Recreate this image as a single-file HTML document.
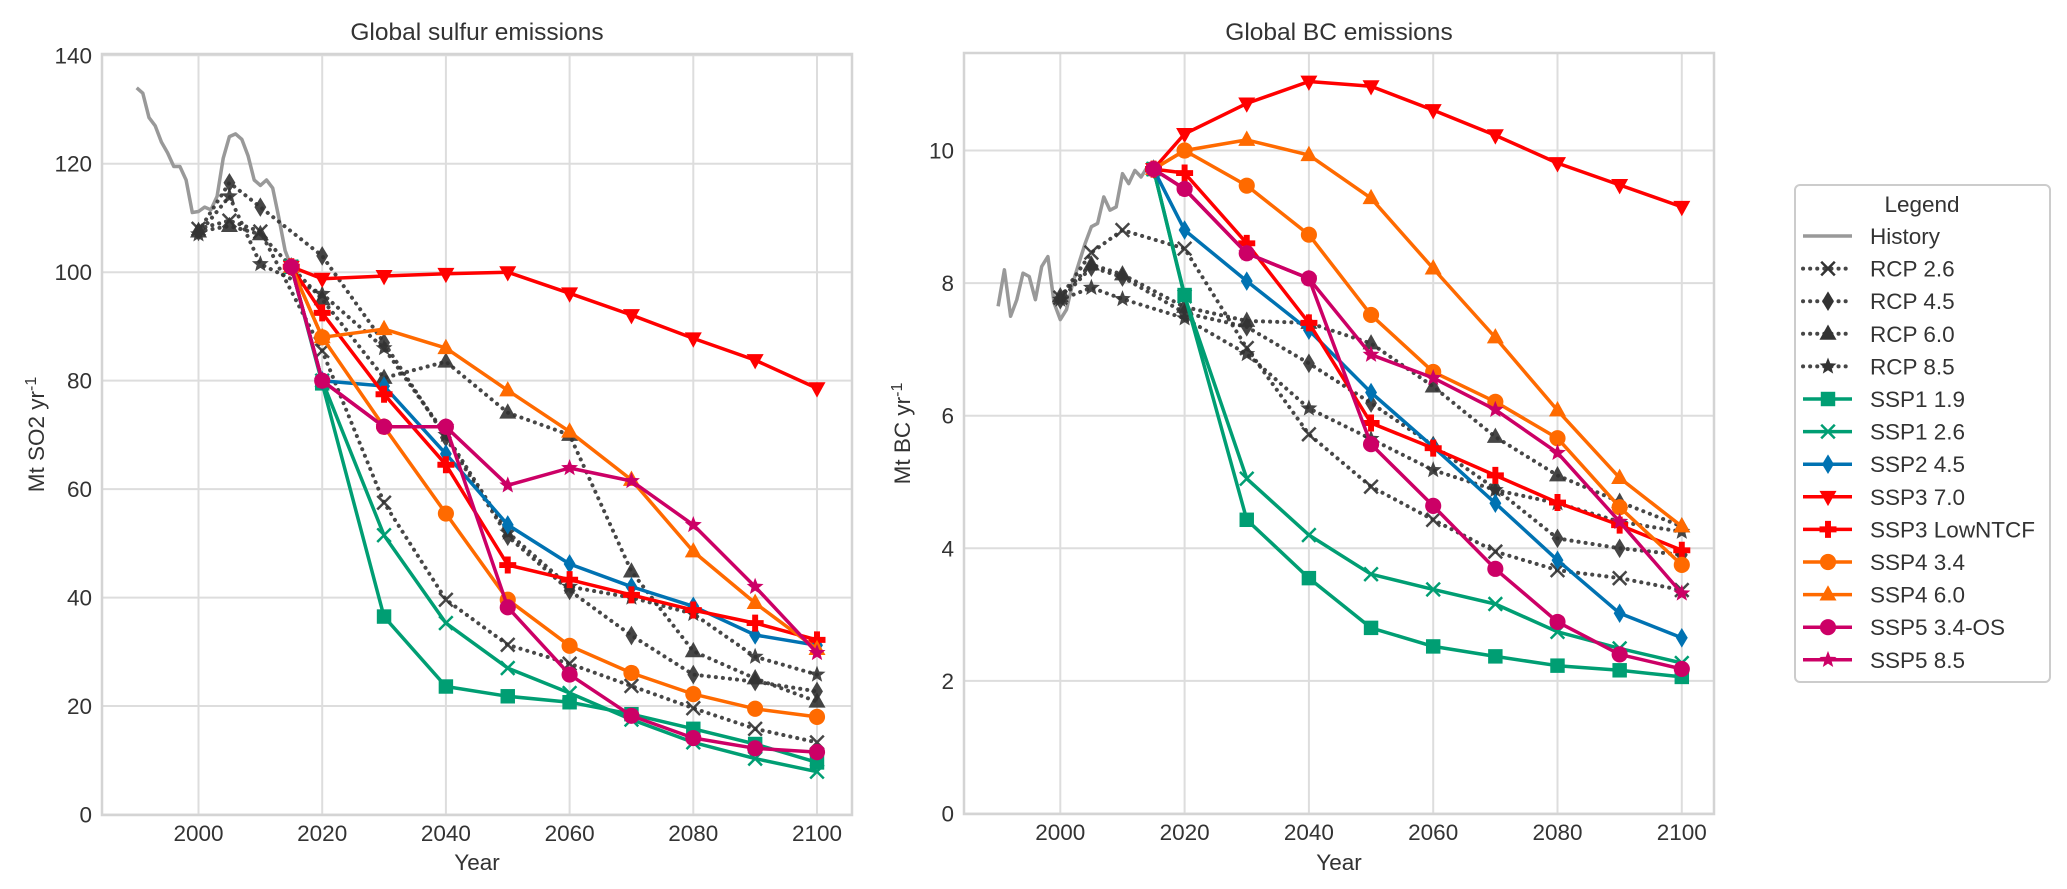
<!DOCTYPE html>
<html><head><meta charset="utf-8"><style>
html,body{margin:0;padding:0;background:#fff}
svg{display:block;font-family:"Liberation Sans",Arial,sans-serif}
</style></head><body>
<svg id="chart" width="2067" height="889" viewBox="0 0 2067 889" xmlns="http://www.w3.org/2000/svg">
<defs>
<clipPath id="clipL"><rect x="102" y="54" width="750" height="761"/></clipPath>
<clipPath id="clipR"><rect x="964" y="53" width="750" height="761"/></clipPath>
</defs>
<g id="panelL"></g>
<g id="panelR"></g>
<g id="legend"></g>
</svg>
<script>
// ---- data ----
const histYears = [1990,1991,1992,1993,1994,1995,1996,1997,1998,1999,2000,2001,2002,2003,2004,2005,2006,2007,2008,2009,2010,2011,2012,2013,2014,2015];
const rcpYears = [2000,2005,2010,2020,2030,2040,2050,2060,2070,2080,2090,2100];
const sspYears = [2015,2020,2030,2040,2050,2060,2070,2080,2090,2100];
const yTicksL = [0,20,40,60,80,100,120,140];
const yTicksR = [0,2,4,6,8,10];
const xTicks = [2000,2020,2040,2060,2080,2100];

const so2History = [134,133,128.5,127,124,122,119.5,119.5,117,111,111.2,112,111.5,114,121,125,125.5,124.5,121.5,117,116,117,115.5,110,104,101];
const so2Rcp26 = [108,109.5,107.5,85.5,57.5,39.6,31.3,27.8,23.7,19.6,15.8,13.3];
const so2Rcp45 = [107.5,116.5,112,103,87,69.5,51.3,41.3,33,25.8,24.5,22.7];
const so2Rcp60 = [107.5,108.5,107,95,80.5,83.5,74.1,70,44.8,30.1,25.1,20.8];
const so2Rcp85 = [107,114,101.5,96,86,70,52,42,40,37,29.1,25.8];
const so2Ssp119 = [101,79.5,36.5,23.6,21.8,20.7,18.5,15.8,13,9.6];
const so2Ssp126 = [101,80,51.5,35.3,27,22.4,17.5,13.3,10.3,7.9];
const so2Ssp245 = [101,80,79,66.5,53.4,46.2,42,38.4,33.1,31.2];
const so2Ssp370 = [101,98.8,99.3,99.7,100,96.1,92.1,87.8,83.8,78.6];
const so2Ssp3Low = [101,92.5,77.5,64.5,46,43.3,40.5,37.7,35.3,32.2];
const so2Ssp434 = [101,88,71.5,55.5,39.6,31.1,26.1,22.2,19.5,18];
const so2Ssp460 = [101,88,89.5,86,78.2,70.6,61.7,48.5,39,30.5];
const so2Ssp534 = [101,80,71.5,71.5,38.2,25.8,18.2,14.1,12.2,11.5];
const so2Ssp585 = [101,80,71.5,71.5,60.7,63.9,61.5,53.4,42,29.8];

const bcHistory = [7.65,8.2,7.5,7.75,8.15,8.1,7.75,8.25,8.4,7.7,7.45,7.6,8.0,8.3,8.6,8.85,8.9,9.3,9.1,9.15,9.65,9.5,9.7,9.6,9.75,9.72];
const bcRcp26 = [7.78,8.46,8.8,8.52,7.02,5.72,4.93,4.43,3.95,3.67,3.55,3.37];
const bcRcp45 = [7.75,8.24,8.09,7.55,7.34,6.79,6.19,5.55,4.9,4.15,4.0,3.9];
const bcRcp60 = [7.8,8.28,8.13,7.64,7.43,7.4,7.09,6.44,5.68,5.1,4.7,4.33];
const bcRcp85 = [7.75,7.93,7.76,7.47,6.93,6.11,5.65,5.18,4.88,4.68,4.4,4.25];
const bcSsp119 = [9.72,7.82,4.43,3.55,2.8,2.52,2.37,2.23,2.16,2.06];
const bcSsp126 = [9.72,7.8,5.05,4.2,3.61,3.38,3.16,2.74,2.49,2.27];
const bcSsp245 = [9.72,8.8,8.03,7.29,6.35,5.53,4.68,3.82,3.02,2.65];
const bcSsp370 = [9.72,10.25,10.71,11.04,10.97,10.61,10.23,9.81,9.48,9.15];
const bcSsp3Low = [9.72,9.66,8.6,7.4,5.89,5.51,5.1,4.69,4.35,3.97];
const bcSsp434 = [9.72,10.0,9.47,8.73,7.52,6.66,6.21,5.66,4.62,3.75];
const bcSsp460 = [9.72,10.0,10.16,9.93,9.28,8.22,7.18,6.08,5.06,4.33];
const bcSsp534 = [9.72,9.42,8.45,8.07,5.57,4.64,3.69,2.89,2.4,2.18];
const bcSsp585 = [9.72,9.42,8.45,8.07,6.92,6.57,6.09,5.44,4.4,3.32];

const legendLabels = ["History","RCP 2.6","RCP 4.5","RCP 6.0","RCP 8.5","SSP1 1.9","SSP1 2.6","SSP2 4.5","SSP3 7.0","SSP3 LowNTCF","SSP4 3.4","SSP4 6.0","SSP5 3.4-OS","SSP5 8.5"];

// ---- styles ----
const GREEN="#009e73", BLUE="#0072b2", RED="#ff0000", ORANGE="#ff6a00", MAG="#cc0066", DARK="#333333", GRAY="#999999";
const styles = [
 {c:GRAY,m:null,dot:false},
 {c:DARK,m:"x",dot:true},{c:DARK,m:"d",dot:true},{c:DARK,m:"^",dot:true},{c:DARK,m:"*",dot:true},
 {c:GREEN,m:"s"},{c:GREEN,m:"x"},{c:BLUE,m:"d"},{c:RED,m:"v"},{c:RED,m:"P"},
 {c:ORANGE,m:"o"},{c:ORANGE,m:"^"},{c:MAG,m:"o"},{c:MAG,m:"*"}
];
const NS="http://www.w3.org/2000/svg";
function mk(tag,attrs,parent){const e=document.createElementNS(NS,tag);for(const k in attrs)e.setAttribute(k,attrs[k]);parent.appendChild(e);return e;}

function marker(g,type,x,y,col,r){
  let e;
  const R=r||8;
  if(type==="o"){e=mk("circle",{cx:x,cy:y,r:R*0.95,fill:col},g);}
  else if(type==="s"){e=mk("rect",{x:x-R*0.85,y:y-R*0.85,width:R*1.7,height:R*1.7,fill:col},g);}
  else if(type==="d"){e=mk("polygon",{points:`${x},${y-R*1.15} ${x+R*0.7},${y} ${x},${y+R*1.15} ${x-R*0.7},${y}`,fill:col},g);}
  else if(type==="^"){e=mk("polygon",{points:`${x},${y-R*1.1} ${x+R},${y+R*0.7} ${x-R},${y+R*0.7}`,fill:col},g);}
  else if(type==="v"){e=mk("polygon",{points:`${x},${y+R*1.1} ${x+R},${y-R*0.7} ${x-R},${y-R*0.7}`,fill:col},g);}
  else if(type==="x"){const a=R*0.8;e=mk("path",{d:`M${x-a},${y-a}L${x+a},${y+a}M${x-a},${y+a}L${x+a},${y-a}`,stroke:col,"stroke-width":2.5,fill:"none"},g);}
  else if(type==="P"){const a=R,b=R*0.35;e=mk("polygon",{points:`${x-b},${y-a} ${x+b},${y-a} ${x+b},${y-b} ${x+a},${y-b} ${x+a},${y+b} ${x+b},${y+b} ${x+b},${y+a} ${x-b},${y+a} ${x-b},${y+b} ${x-a},${y+b} ${x-a},${y-b} ${x-b},${y-b}`,fill:col},g);}
  else if(type==="*"){let p=[];for(let i=0;i<10;i++){const ang=-Math.PI/2+i*Math.PI/5;const rr=i%2?R*0.45:R*1.05;p.push((x+rr*Math.cos(ang)).toFixed(1)+","+(y+rr*Math.sin(ang)).toFixed(1));}e=mk("polygon",{points:p.join(" "),fill:col},g);}
  
  
  return e;
}

function drawPanel(gid,clip,box,xf,yf,yTicks,ytickFmt,title,ylabelMain,ylabelSub,series){
  const g=document.getElementById(gid);
  // grid
  const grid=mk("g",{},g);
  
  
  xTicks.forEach(t=>{mk("line",{x1:xf(t),x2:xf(t),y1:box.y,y2:box.y+box.h,stroke:"#dddddd","stroke-width":2},grid);});
  yTicks.forEach(t=>{mk("line",{x1:box.x,x2:box.x+box.w,y1:yf(t),y2:yf(t),stroke:"#dddddd","stroke-width":2},grid);});
  const fr=mk("rect",{x:box.x,y:box.y,width:box.w,height:box.h,fill:"none",stroke:"#d4d4d4","stroke-width":2.5},g);
  
  
  // ticks
  xTicks.forEach(t=>{const e=mk("text",{x:xf(t),y:box.y+box.h+26,"text-anchor":"middle","font-size":22.5,fill:"#333"},g);e.textContent=t;
    
    });
  yTicks.forEach(t=>{const e=mk("text",{x:box.x-10,y:yf(t)+8,"text-anchor":"end","font-size":22.5,fill:"#333"},g);e.textContent=ytickFmt(t);
    
    });
  const tt=mk("text",{x:box.x+box.w/2,y:40,"text-anchor":"middle","font-size":24.5,fill:"#333"},g);tt.textContent=title;
  
  
  const xl=mk("text",{x:box.x+box.w/2,y:870,"text-anchor":"middle","font-size":22.5,fill:"#333"},g);xl.textContent="Year";
  
  
  const yl=mk("text",{x:0,y:0,"text-anchor":"middle","font-size":22.5,fill:"#333",transform:`translate(${box.ylx},${box.y+box.h/2}) rotate(-90)`},g);
  yl.textContent=ylabelMain;
  const ts=mk("tspan",{dy:-8,"font-size":16},yl);ts.textContent=ylabelSub;
  
  
  // series
  const sg=mk("g",{"clip-path":`url(#${clip})`},g);
  series.forEach((s,i)=>{
    const st=styles[i];
    const sgg=mk("g",{},sg);
    
    
    const pts=s.years.map((yr,k)=>[xf(yr),yf(s.vals[k])]);
    const d=pts.map((p,k)=>(k?"L":"M")+p[0].toFixed(1)+","+p[1].toFixed(1)).join("");
    const attrs={d:d,fill:"none",stroke:st.c,"stroke-width":3.5,"stroke-linejoin":"round"};
    if(st.dot){attrs["stroke-dasharray"]="0.1 7";attrs["stroke-linecap"]="round";attrs["stroke-width"]=4;attrs.opacity=0.9;}
    const ln=mk("path",attrs,sgg);
    
    
    if(st.m){const mg=mk("g",st.dot?{opacity:0.9}:{},sgg);pts.forEach(p=>marker(mg,st.m,p[0],p[1],st.c,8.5));}
  });
}

const xL=yr=>198.5+(yr-2000)*6.185;
const yL=v=>814.5-v*5.423;
const xR=yr=>1060.3+(yr-2000)*6.215;
const yR=v=>813.5-v*66.3;

function S(years,vals){return {years:years,vals:vals};}
drawPanel("panelL","clipL",{x:102,y:54,w:750,h:761,ylx:44},xL,yL,yTicksL,t=>t,"Global sulfur emissions","Mt SO2 yr","-1",
 [S(histYears,so2History),S(rcpYears,so2Rcp26),S(rcpYears,so2Rcp45),S(rcpYears,so2Rcp60),S(rcpYears,so2Rcp85),
  S(sspYears,so2Ssp119),S(sspYears,so2Ssp126),S(sspYears,so2Ssp245),S(sspYears,so2Ssp370),S(sspYears,so2Ssp3Low),
  S(sspYears,so2Ssp434),S(sspYears,so2Ssp460),S(sspYears,so2Ssp534),S(sspYears,so2Ssp585)]);
drawPanel("panelR","clipR",{x:964,y:53,w:750,h:761,ylx:910},xR,yR,yTicksR,t=>t,"Global BC emissions","Mt BC yr","-1",
 [S(histYears,bcHistory),S(rcpYears,bcRcp26),S(rcpYears,bcRcp45),S(rcpYears,bcRcp60),S(rcpYears,bcRcp85),
  S(sspYears,bcSsp119),S(sspYears,bcSsp126),S(sspYears,bcSsp245),S(sspYears,bcSsp370),S(sspYears,bcSsp3Low),
  S(sspYears,bcSsp434),S(sspYears,bcSsp460),S(sspYears,bcSsp534),S(sspYears,bcSsp585)]);

// legend
(function(){
  const g=document.getElementById("legend");
  const bx=mk("rect",{x:1795,y:185,width:255,height:497,rx:5,fill:"#fff",stroke:"#cccccc","stroke-width":2},g);
  
  
  const t=mk("text",{x:1922,y:212,"text-anchor":"middle","font-size":22.5,fill:"#333"},g);t.textContent="Legend";
  
  
  legendLabels.forEach((lab,i)=>{
    const y=236+i*32.6, st=styles[i];
    const eg=mk("g",{},g);
    
    
    const a={x1:1803,x2:1852,y1:y,y2:y,stroke:st.c,"stroke-width":3.5};
    if(st.dot){a["stroke-dasharray"]="0.1 7";a["stroke-linecap"]="round";a["stroke-width"]=4;a.opacity=0.9;}
    mk("line",a,eg);
    if(st.m)marker(eg,st.m,1828,y,st.c,8.5);
    const tx=mk("text",{x:1870,y:y+8,"font-size":22.5,fill:"#333"},eg);tx.textContent=lab;
  });
})();
</script>
</body></html>
